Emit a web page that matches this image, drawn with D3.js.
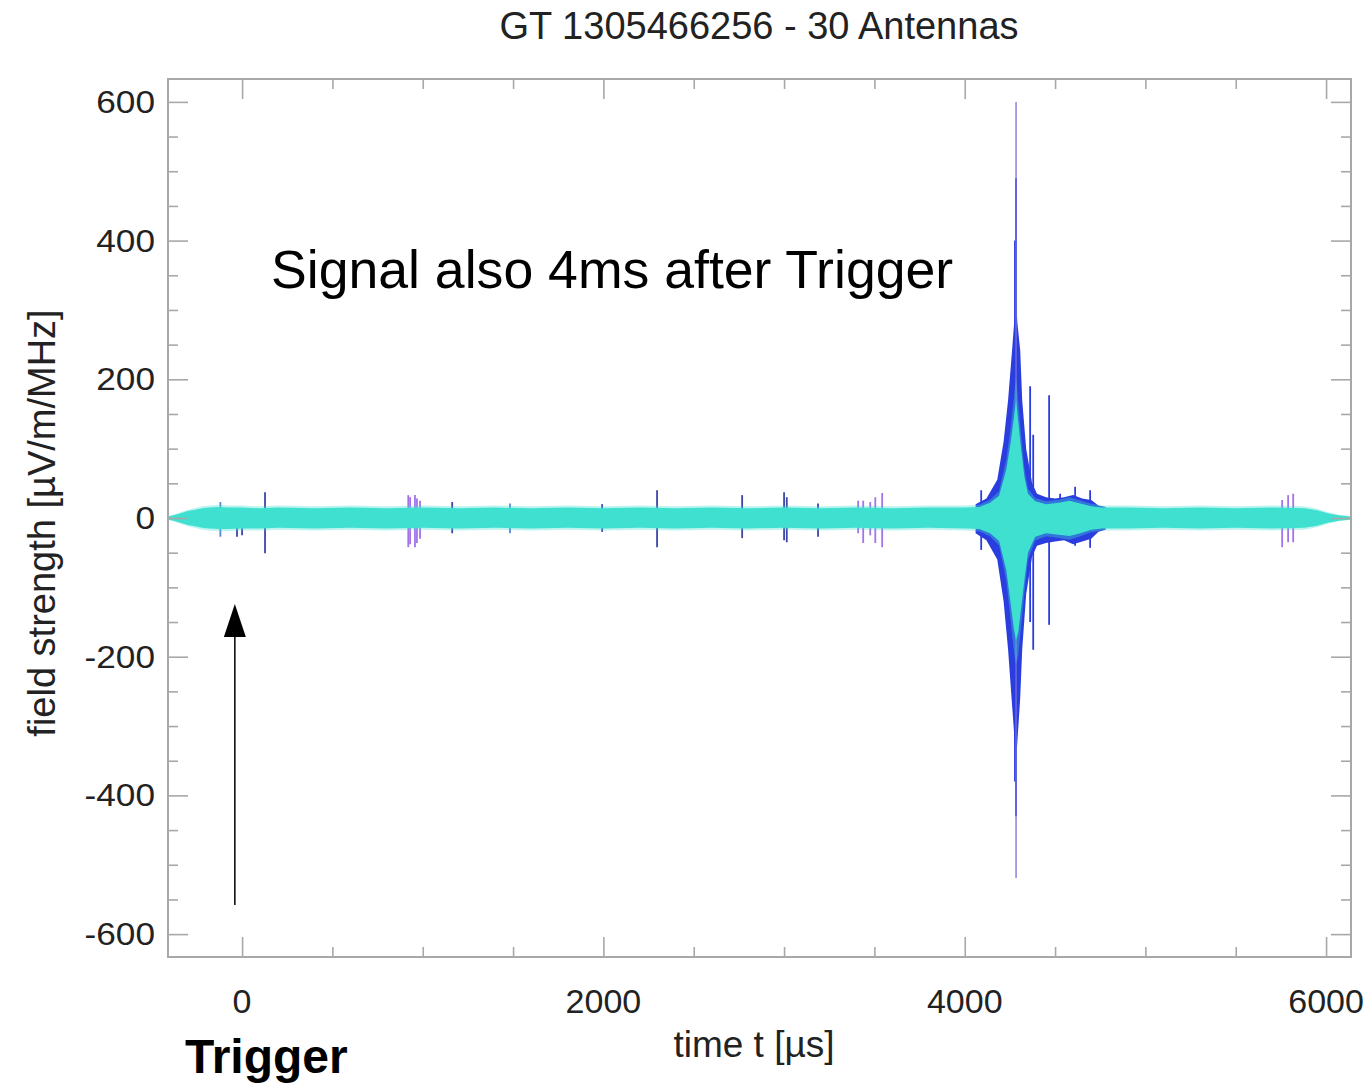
<!DOCTYPE html>
<html>
<head>
<meta charset="utf-8">
<script src="https://cdn.jsdelivr.net/npm/d3@7"></script>
<style>
  html, body { margin: 0; padding: 0; background: #ffffff; }
  svg { display: block; }
  text { font-family: "Liberation Sans", Arial, sans-serif; }
</style>
</head>
<body>
<svg id="chart" width="1369" height="1083"></svg>
<script>
// ---------------- DATA ----------------
const titleText = "GT 1305466256 - 30 Antennas";
const xLabelText = "time t [µs]";
const yLabelText = "field strength [µV/m/MHz]";
const annotationText = "Signal also 4ms after Trigger";
const triggerText = "Trigger";

const xDomain = [-410, 6138];
const yDomain = [-633, 633];
const xMajorTicks = [0, 2000, 4000, 6000];
const xMinorTicks = [500, 1000, 1500, 2500, 3000, 3500, 4500, 5000, 5500];
const yMajorTicks = [-600, -400, -200, 0, 200, 400, 600];
const yMinorTicks = [-550, -500, -450, -350, -300, -250, -150, -100, -50,
                     50, 100, 150, 250, 300, 350, 450, 500, 550];

// envelope of the superposed (turquoise) traces of all antennas
const bandT  = [-410, -380, -340, -300, -260, -220, -180, -130, -80, 0, 100, 200, 400, 600, 800, 1000, 1200, 1400, 1600, 1800, 2000, 2200, 2400, 2600, 2800, 3000, 3200, 3400, 3600, 3800, 4000, 4080, 4140, 4190, 4230, 4255, 4272, 4284, 4296, 4312, 4330, 4350, 4390, 4450, 4520, 4580, 4640, 4700, 4760, 4900, 5100, 5300, 5500, 5700, 5880, 5950, 6010, 6070, 6138];
const bandHi = [2, 4, 7, 10, 12, 14, 15, 16, 15, 15, 14, 15, 14, 15, 14, 15, 14, 15, 14, 15, 14, 15, 14, 15, 14, 15, 14, 15, 14, 15, 15, 16, 22, 32, 70, 110, 145, 170, 140, 100, 60, 35, 24, 20, 22, 25, 21, 17, 15, 15, 14, 15, 14, 15, 14, 11, 7, 4, 2];
const bandLo = [-2, -4, -7, -10, -12, -14, -15, -16, -16, -15, -15, -14, -15, -14, -15, -14, -15, -14, -15, -14, -15, -14, -15, -14, -15, -14, -15, -14, -15, -14, -15, -16, -22, -33, -75, -125, -160, -176, -165, -130, -90, -50, -27, -22, -24, -26, -22, -17, -15, -15, -14, -15, -14, -15, -14, -11, -7, -4, -2];

// envelope of the strongest (blue) antennas around the 4.3 ms burst
const burstT  = [4060, 4120, 4180, 4215, 4240, 4262, 4276, 4284, 4292, 4307, 4318, 4340, 4373, 4400, 4450, 4500, 4550, 4600, 4650, 4700, 4740, 4780];
const burstHi = [20, 28, 55, 110, 170, 242, 290, 310, 280, 242, 170, 100, 50, 35, 30, 28, 30, 33, 28, 26, 18, 16];
const burstLo = [-22, -32, -60, -120, -190, -270, -320, -350, -320, -260, -190, -110, -55, -40, -36, -34, -32, -38, -34, -30, -20, -17];

// individual spikes: time, max, min, antenna group
const spikeT    = [-120, -28, 0, 127, 920, 930, 957, 968, 985, 1163, 1483, 1993, 2297, 2768, 3000, 3015, 3188, 3410, 3438, 3477, 3505, 3543, 4091, 4278, 4284, 4284, 4362, 4379, 4467, 4528, 4611, 4694, 5757, 5790, 5818];
const spikeHi   = [23, 10, 12, 37, 33, 30, 33, 28, 25, 23, 21, 20, 40, 33, 37, 30, 21, 25, 25, 23, 30, 36, 40, 400, 490, 600, 190, 120, 177, 35, 45, 40, 26, 33, 35];
const spikeLo   = [-27, -27, -25, -51, -42, -38, -42, -36, -30, -22, -22, -20, -42, -29, -32, -35, -27, -22, -36, -25, -36, -42, -46, -380, -430, -519, -150, -190, -154, -30, -40, -43, -42, -35, -35];
const spikeKind = ["light", "dark", "dark", "dark", "purple", "purple", "purple", "purple", "purple", "dark", "light", "dark", "dark", "dark", "dark", "dark", "dark", "purple", "purple", "purple", "purple", "purple", "blue", "blue", "blue", "peak", "blue", "blue", "blue", "blue", "blue", "blue", "purple", "purple", "purple"];

// trigger arrow (time, from value, to value)
const arrowT = -40;
const arrowFrom = -558;
const arrowTo = -124;

// ---------------- DRAWING ----------------
const svg = d3.select("#chart");
const mLeft = 168, mRight = 1351, mTop = 79, mBottom = 957;

const x = d3.scaleLinear().domain(xDomain).range([mLeft, mRight]);
const y = d3.scaleLinear().domain(yDomain).range([mBottom, mTop]);

const kindColor = { light: "#5a86d8", dark: "#3b46a8", purple: "#a373ea", blue: "#2a3ee0", peak: "#7a6fd8" };
const frameColor = "#a8a8a8";

const plot = svg.append("g");

// blue burst envelope (behind)
const burstData = burstT.map((t, i) => ({ t, hi: burstHi[i], lo: burstLo[i] }));
plot.append("path")
  .datum(burstData)
  .attr("fill", "#2a3ee0")
  .attr("d", d3.area().x(d => x(d.t)).y0(d => y(d.lo)).y1(d => y(d.hi)));

// spikes (behind the turquoise band)
const spikes = spikeT.map((t, i) => ({ t, hi: spikeHi[i], lo: spikeLo[i], kind: spikeKind[i] }));
plot.selectAll("line.spike")
  .data(spikes)
  .join("line")
  .attr("class", "spike")
  .attr("x1", d => x(d.t)).attr("x2", d => x(d.t))
  .attr("y1", d => y(d.hi)).attr("y2", d => y(d.lo))
  .attr("stroke", d => kindColor[d.kind])
  .attr("stroke-width", d => d.kind === "peak" ? 1.3 : 1.8);

// turquoise band: fuzzy outer edge + solid core
const bandData = bandT.map((t, i) => ({ t, hi: bandHi[i], lo: bandLo[i] }));
plot.append("path")
  .datum(bandData)
  .attr("fill", "#40e0d0")
  .attr("opacity", 0.35)
  .attr("d", d3.area().x(d => x(d.t)).y0(d => y(d.lo * 1.2)).y1(d => y(d.hi * 1.2)));
plot.append("path")
  .datum(bandData)
  .attr("fill", "#40e0d0")
  .attr("d", d3.area().x(d => x(d.t)).y0(d => y(d.lo)).y1(d => y(d.hi)));

// frame
svg.append("rect")
  .attr("x", mLeft).attr("y", mTop)
  .attr("width", mRight - mLeft).attr("height", mBottom - mTop)
  .attr("fill", "none").attr("stroke", frameColor).attr("stroke-width", 2);

// ticks via d3 axes (inward)
function styleAxis(g) {
  g.select(".domain").remove();
  g.selectAll(".tick line").attr("stroke", frameColor).attr("stroke-width", 1.6);
  g.selectAll(".tick text").remove();
}
const majLen = 20, minLen = 10;
svg.append("g").attr("transform", `translate(0,${mBottom})`)
  .call(d3.axisTop(x).tickValues(xMajorTicks).tickSize(majLen)).call(styleAxis);
svg.append("g").attr("transform", `translate(0,${mBottom})`)
  .call(d3.axisTop(x).tickValues(xMinorTicks).tickSize(minLen)).call(styleAxis);
svg.append("g").attr("transform", `translate(0,${mTop})`)
  .call(d3.axisBottom(x).tickValues(xMajorTicks).tickSize(majLen)).call(styleAxis);
svg.append("g").attr("transform", `translate(0,${mTop})`)
  .call(d3.axisBottom(x).tickValues(xMinorTicks).tickSize(minLen)).call(styleAxis);
svg.append("g").attr("transform", `translate(${mLeft},0)`)
  .call(d3.axisRight(y).tickValues(yMajorTicks).tickSize(majLen)).call(styleAxis);
svg.append("g").attr("transform", `translate(${mLeft},0)`)
  .call(d3.axisRight(y).tickValues(yMinorTicks).tickSize(minLen)).call(styleAxis);
svg.append("g").attr("transform", `translate(${mRight},0)`)
  .call(d3.axisLeft(y).tickValues(yMajorTicks).tickSize(majLen)).call(styleAxis);
svg.append("g").attr("transform", `translate(${mRight},0)`)
  .call(d3.axisLeft(y).tickValues(yMinorTicks).tickSize(minLen)).call(styleAxis);

// tick labels
svg.append("g").selectAll("text")
  .data(xMajorTicks)
  .join("text")
  .attr("x", d => x(d)).attr("y", 1013)
  .attr("text-anchor", "middle")
  .attr("font-size", 34).attr("fill", "#222")
  .text(d => d);
svg.append("g").selectAll("text")
  .data(yMajorTicks)
  .join("text")
  .attr("transform", d => `translate(155,${y(d) + 11}) scale(1.1,1)`)
  .attr("text-anchor", "end")
  .attr("font-size", 32).attr("fill", "#222")
  .text(d => d);

// title and axis titles
svg.append("text")
  .attr("x", 759).attr("y", 39)
  .attr("text-anchor", "middle").attr("font-size", 38).attr("fill", "#222")
  .text(titleText);
svg.append("text")
  .attr("x", 754).attr("y", 1057)
  .attr("text-anchor", "middle").attr("font-size", 37).attr("fill", "#222")
  .text(xLabelText);
svg.append("text")
  .attr("transform", "translate(55,523) rotate(-90)")
  .attr("text-anchor", "middle").attr("font-size", 38).attr("fill", "#222")
  .text(yLabelText);

// annotations
svg.append("text")
  .attr("x", 271).attr("y", 288)
  .attr("font-size", 53.6).attr("fill", "#000")
  .text(annotationText);
svg.append("text")
  .attr("x", 185).attr("y", 1073)
  .attr("font-size", 48).attr("font-weight", "bold").attr("fill", "#000")
  .text(triggerText);

// trigger arrow
const ax = x(arrowT);
svg.append("line")
  .attr("x1", ax).attr("x2", ax)
  .attr("y1", y(arrowFrom)).attr("y2", y(arrowTo) + 30)
  .attr("stroke", "#000").attr("stroke-width", 1.5);
svg.append("path")
  .attr("d", `M${ax},${y(arrowTo)} L${ax - 11},${y(arrowTo) + 33} L${ax + 11},${y(arrowTo) + 33} Z`)
  .attr("fill", "#000");
</script>
</body>
</html>
